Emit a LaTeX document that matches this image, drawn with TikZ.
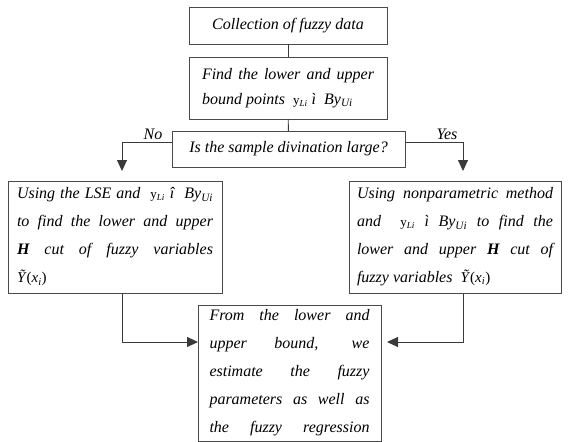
\documentclass[tikz,border=0pt]{standalone}
\usepackage{fontspec}
\setmainfont{Liberation Serif}
\usetikzlibrary{arrows.meta,positioning}
\definecolor{boxGray}{HTML}{4A4A4A}
\definecolor{lineGray}{HTML}{3A3A3A}
\newcommand{\yLow}{{\fontsize{13}{13}\selectfont\upshape y\textsubscript{\itshape Li}}}
\newcommand{\yUp}{\textit{By}\textsubscript{\itshape Ui}}
\newcommand{\fuzzyY}{{\fontsize{15}{15}\selectfont\~{Y}\textup{(}x\textsubscript{i}\textup{)}}}

\begin{document}
\begin{tikzpicture}[
  x=1pt,y=-1pt,
  font=\fontsize{16}{28}\selectfont\itshape,
  flowbox/.style={draw=boxGray,line width=0.9pt,inner sep=0pt,outer sep=0pt},
  link/.style={draw=lineGray,line width=0.9pt},
  arr/.style={link,-{Triangle[length=11pt,width=10pt]}}
]
  \useasboundingbox (0,0) rectangle (568,442);

  \node[flowbox,minimum width=198pt,minimum height=37pt,anchor=north west] (collect) at (189,7) {Collection of fuzzy data};
  \node[flowbox,minimum width=198pt,minimum height=62pt,text width=172pt,align=justify,anchor=north west,
    font=\fontsize{16}{25}\selectfont\itshape] (bounds) at (189,57)
    {Find the lower and upper bound points~ \yLow\ ì~ \yUp};
  \node[flowbox,minimum width=233pt,minimum height=36pt,anchor=north west] (sample) at (172,131) {Is the sample divination large?};

  \node[flowbox,minimum width=214pt,minimum height=112pt,text width=196pt,align=justify,anchor=north west] (lse) at (8,181)
    {Using the LSE and~ \yLow\ î~ \yUp\linebreak
     to find the lower and upper\linebreak
     \textbf{H} cut of fuzzy variables\linebreak
     \fuzzyY};
  \node[flowbox,minimum width=212pt,minimum height=112pt,text width=196pt,align=justify,anchor=north west] (nonpar) at (349,181)
    {Using nonparametric method\linebreak
     and~ \yLow\ ì \yUp\ to find the\linebreak
     lower and upper \textbf{H} cut of\linebreak
     fuzzy variables~ \fuzzyY};
  \node[flowbox,minimum width=183pt,minimum height=136pt,text width=160pt,align=justify,anchor=north west] (estimate) at (198,305)
    {From the lower and\linebreak
     upper bound, we\linebreak
     estimate the fuzzy\linebreak
     parameters as well as\linebreak
     the fuzzy regression\parfillskip=0pt\par};

  \draw[link] (collect) -- (bounds);
  \draw[link] (bounds) -- (sample);

  % decision branches
  \coordinate (noturn) at (122,142);
  \coordinate (yesturn) at (463,142);
  \draw[arr,shorten >=10pt] (sample.west |- noturn) -| (noturn |- lse.north);
  \draw[arr,shorten >=10pt] (sample.east |- yesturn) -| (yesturn |- nonpar.north);
  \node[anchor=south,inner sep=1pt] (nolabel) at (153,141) {No};
  \node[anchor=south,inner sep=1pt] (yeslabel) at (447,141) {Yes};

  % merge into the last step
  \coordinate (merge) at (0,342);
  \draw[arr] (noturn |- lse.south) |- (estimate.west |- merge);
  \draw[arr,shorten >=6pt] (yesturn |- nonpar.south) |- (estimate.east |- merge);
\end{tikzpicture}
\end{document}
